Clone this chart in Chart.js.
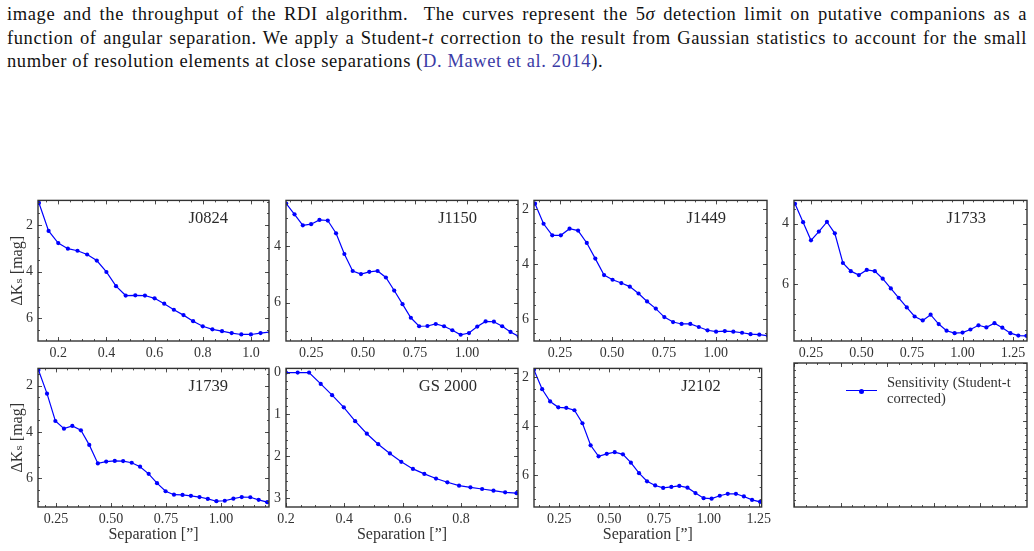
<!DOCTYPE html>
<html><head><meta charset="utf-8">
<script src="https://cdn.jsdelivr.net/npm/chart.js@4.4.1/dist/chart.umd.min.js"></script>
<style>
html,body{margin:0;padding:0;background:#fff;width:1034px;height:551px;overflow:hidden;position:relative;}
.txt{position:absolute;left:7px;width:1020px;font-family:"Liberation Serif",serif;font-size:18.5px;letter-spacing:0.6px;line-height:22px;color:#111;white-space:nowrap;}
.just{text-align:justify;text-align-last:justify;white-space:normal;}
.cite{color:#3b3ba6;}
canvas{position:absolute;}
#legend{position:absolute;left:846px;top:375px;width:180px;height:34px;font-family:"Liberation Serif",serif;font-size:14.5px;line-height:15.5px;color:#333;}
#legend .ln{position:absolute;left:0;top:15px;width:31px;height:1.4px;background:#0000ff;}
#legend .dt{position:absolute;left:13px;top:13.5px;width:5px;height:5px;border-radius:50%;background:#0000ff;}
#legend .lb{position:absolute;left:41px;top:0;white-space:nowrap;}
</style></head><body>
<div class="txt just" style="top:3px">image and the throughput of the RDI algorithm.&nbsp; The curves represent the 5<i>σ</i> detection limit on putative companions as a</div>
<div class="txt just" style="top:27px">function of angular separation. We apply a Student-<i>t</i> correction to the result from Gaussian statistics to account for the small</div>
<div class="txt" style="top:50px">number of resolution elements at close separations (<span class="cite">D. Mawet et al. 2014</span>).</div>

<canvas id="c0"></canvas><canvas id="c1"></canvas><canvas id="c2"></canvas><canvas id="c3"></canvas>
<canvas id="c4"></canvas><canvas id="c5"></canvas><canvas id="c6"></canvas><canvas id="c7"></canvas>
<div id="legend"><div class="ln"></div><div class="dt"></div><div class="lb" id="legendText">Sensitivity (Student-t<br>corrected)</div></div>

<script>
// ---------------- DATA ----------------
const targetNames = ['J0824', 'J1150', 'J1449', 'J1733', 'J1739', 'GS 2000', 'J2102'];
const legendLabel = 'Sensitivity (Student-t corrected)';

const j0824Sep = [0.12,0.16,0.20,0.24,0.28,0.32,0.36,0.40,0.44,0.48,0.52,0.56,0.60,0.64,0.68,0.72,0.76,0.80,0.84,0.88,0.92,0.96,1.00,1.04,1.08];
const j0824Dk  = [1.05,2.25,2.77,3.01,3.10,3.26,3.52,4.01,4.62,5.02,5.01,5.02,5.14,5.37,5.63,5.86,6.12,6.34,6.47,6.55,6.63,6.69,6.69,6.63,6.58];

const j1150Sep = [0.13,0.17,0.21,0.25,0.29,0.33,0.37,0.41,0.45,0.49,0.53,0.57,0.61,0.65,0.69,0.73,0.77,0.81,0.85,0.89,0.93,0.97,1.01,1.05,1.09,1.13,1.17,1.21,1.25];
const j1150Dk  = [2.50,2.88,3.27,3.23,3.08,3.10,3.55,4.28,4.88,4.99,4.91,4.88,5.11,5.57,6.05,6.53,6.83,6.82,6.75,6.83,6.97,7.13,7.07,6.84,6.66,6.67,6.83,7.03,7.19];

const j1449Sep = [0.130,0.171,0.213,0.254,0.296,0.337,0.379,0.420,0.462,0.503,0.545,0.586,0.628,0.669,0.711,0.752,0.794,0.835,0.877,0.918,0.960,1.001,1.043,1.084,1.126,1.167,1.209,1.250];
const j1449Dk  = [1.80,2.53,2.95,2.95,2.71,2.78,3.23,3.80,4.40,4.57,4.69,4.82,5.07,5.36,5.62,5.93,6.11,6.18,6.18,6.29,6.41,6.46,6.44,6.46,6.50,6.55,6.57,6.61];

const j1733Sep = [0.171,0.211,0.250,0.289,0.329,0.368,0.408,0.447,0.487,0.526,0.566,0.605,0.645,0.684,0.724,0.763,0.803,0.842,0.882,0.921,0.961,1.000,1.039,1.079,1.118,1.158,1.197,1.237,1.276,1.316];
const j1733Dk  = [3.34,3.95,4.55,4.26,3.94,4.32,5.30,5.57,5.70,5.53,5.57,5.82,6.14,6.45,6.77,7.07,7.20,7.01,7.32,7.54,7.62,7.60,7.50,7.36,7.43,7.29,7.44,7.62,7.70,7.71];

const j1739Sep = [0.170,0.209,0.247,0.286,0.324,0.363,0.401,0.440,0.478,0.517,0.555,0.594,0.632,0.671,0.709,0.748,0.786,0.825,0.863,0.902,0.940,0.979,1.017,1.056,1.094,1.133,1.171,1.210];
const j1739Dk  = [1.33,2.35,3.53,3.86,3.74,3.93,4.56,5.36,5.28,5.25,5.26,5.33,5.50,5.81,6.21,6.56,6.71,6.72,6.76,6.81,6.89,6.99,6.97,6.88,6.81,6.82,6.93,7.03];

const gs2000Sep = [0.200,0.240,0.279,0.319,0.358,0.398,0.437,0.477,0.516,0.556,0.595,0.635,0.674,0.714,0.753,0.793,0.832,0.872,0.911,0.951,0.990];
const gs2000Dk  = [0.00,0.00,0.00,0.27,0.54,0.83,1.16,1.46,1.71,1.93,2.13,2.30,2.42,2.53,2.62,2.70,2.74,2.78,2.82,2.86,2.88];

const j2102Sep = [0.123,0.164,0.204,0.245,0.285,0.326,0.366,0.407,0.447,0.488,0.528,0.569,0.609,0.650,0.690,0.731,0.771,0.812,0.852,0.893,0.933,0.974,1.014,1.055,1.095,1.136,1.176,1.217,1.257];
const j2102Dk  = [1.71,2.50,3.00,3.24,3.26,3.36,3.89,4.79,5.24,5.14,5.07,5.16,5.50,5.93,6.26,6.43,6.53,6.49,6.45,6.52,6.74,6.95,6.97,6.85,6.77,6.77,6.88,7.02,7.10];

// tick values and labels
const xTicksTenths   = [0.2, 0.4, 0.6, 0.8, 1.0];
const xLabelsTenths  = ['0.2', '0.4', '0.6', '0.8', '1.0'];
const xTicksQuarter  = [0.25, 0.50, 0.75, 1.00, 1.25];
const xLabelsQuarter = ['0.25', '0.50', '0.75', '1.00', '1.25'];
const yTicksEven     = [2, 4, 6];
const yLabelsEven    = ['2', '4', '6'];
const yTicksGs       = [0, 1, 2, 3];
const yLabelsGs      = ['0', '1', '2', '3'];

const xTitle = 'Separation [\u201D]';
const yTitle = '\u0394K\u209B [mag]';

// ---------------- LAYOUT ----------------
const colLeft  = [38, 286, 534, 794];
const colRight = [269, 518, 767, 1027];
const rowTop   = [195, 363];
const rowBot   = [341, 507];
const Y_AXIS_W = 38, X_AXIS_H = 40, PAD_T = 8, PAD_R = 8;
const SERIF = '"Liberation Serif", "DejaVu Serif", serif';
const LINE_BLUE = '#0000ff';

const panels = [
  {name: targetNames[0], sep: j0824Sep, dk: j0824Dk, xMin: 0.116, xMax: 1.075, yMin: 0.94, yMax: 6.97, xt: xTicksTenths, xl: xLabelsTenths, xMinor: 0.05, yt: yTicksEven, yl: yLabelsEven, yMinor: 0.5, row: 0, col: 0},
  {name: targetNames[1], sep: j1150Sep, dk: j1150Dk, xMin: 0.129, xMax: 1.246, yMin: 2.39, yMax: 7.35, xt: xTicksQuarter, xl: xLabelsQuarter, xMinor: 0.05, yt: yTicksEven, yl: yLabelsEven, yMinor: 0.5, row: 0, col: 1},
  {name: targetNames[2], sep: j1449Sep, dk: j1449Dk, xMin: 0.125, xMax: 1.246, yMin: 1.68, yMax: 6.80, xt: xTicksQuarter, xl: xLabelsQuarter, xMinor: 0.05, yt: yTicksEven, yl: yLabelsEven, yMinor: 0.5, row: 0, col: 2},
  {name: targetNames[3], sep: j1733Sep, dk: j1733Dk, xMin: 0.166, xMax: 1.319, yMin: 3.23, yMax: 7.88, xt: xTicksQuarter, xl: xLabelsQuarter, xMinor: 0.05, yt: yTicksEven, yl: yLabelsEven, yMinor: 0.5, row: 0, col: 3},
  {name: targetNames[4], sep: j1739Sep, dk: j1739Dk, xMin: 0.168, xMax: 1.218, yMin: 1.26, yMax: 7.24, xt: xTicksQuarter, xl: xLabelsQuarter, xMinor: 0.05, yt: yTicksEven, yl: yLabelsEven, yMinor: 0.5, row: 1, col: 0},
  {name: targetNames[5], sep: gs2000Sep, dk: gs2000Dk, xMin: 0.200, xMax: 0.995, yMin: -0.10, yMax: 3.21, xt: xTicksTenths, xl: xLabelsTenths, xMinor: 0.05, yt: yTicksGs, yl: yLabelsGs, yMinor: 0.2, row: 1, col: 1},
  {name: targetNames[6], sep: j2102Sep, dk: j2102Dk, xMin: 0.123, xMax: 1.265, yMin: 1.65, yMax: 7.31, xt: xTicksQuarter, xl: xLabelsQuarter, xMinor: 0.05, yt: yTicksEven, yl: yLabelsEven, yMinor: 0.5, row: 1, col: 2},
  {name: '', sep: [], dk: [], xMin: 0, xMax: 1, yMin: 0, yMax: 1, xt: [0,0.2,0.4,0.6,0.8,1.0], xl: null, xMinor: 0.05, yt: [0,0.2,0.4,0.6,0.8,1.0], yl: null, yMinor: 0.05, row: 1, col: 3, legendOnly: true}
];

const inRange = (v, lo, hi) => v >= Math.min(lo, hi) - 1e-9 && v <= Math.max(lo, hi) + 1e-9;

// frame with inward ticks on all four sides + panel label
const framePlugin = {
  id: 'frame',
  afterDatasetsDraw(chart, args, opts) {
    const {ctx, chartArea: a, scales: {x, y}} = chart;
    ctx.save();
    ctx.strokeStyle = '#3c3c3c';
    ctx.lineWidth = 0.9;
    const minorVals = (min, max, step) => {
      const out = [];
      for (let k = Math.ceil(min / step - 1e-9); k * step <= max + 1e-9; k++) out.push(k * step);
      return out;
    };
    const tickX = (v, len) => {
      const px = Math.round(x.getPixelForValue(v)) + 0.5;
      if (px < a.left || px > a.right) return;
      ctx.beginPath();
      ctx.moveTo(px, a.bottom); ctx.lineTo(px, a.bottom - len);
      ctx.moveTo(px, a.top); ctx.lineTo(px, a.top + len);
      ctx.stroke();
    };
    const tickY = (v, len) => {
      const py = Math.round(y.getPixelForValue(v)) + 0.5;
      if (py < a.top || py > a.bottom) return;
      ctx.beginPath();
      ctx.moveTo(a.left, py); ctx.lineTo(a.left + len, py);
      ctx.moveTo(a.right, py); ctx.lineTo(a.right - len, py);
      ctx.stroke();
    };
    minorVals(x.min, x.max, opts.xMinor).forEach(v => tickX(v, 2));
    minorVals(y.min, y.max, opts.yMinor).forEach(v => tickY(v, 2));
    opts.xt.forEach(v => tickX(v, 4));
    opts.yt.forEach(v => tickY(v, 4));
    ctx.lineWidth = 1.4;
    ctx.strokeStyle = '#333';
    ctx.strokeRect(a.left, a.top, a.right - a.left, a.bottom - a.top);
    if (opts.label) {
      ctx.fillStyle = '#2a2a2a';
      ctx.font = '16.5px ' + SERIF;
      ctx.textAlign = 'right';
      ctx.textBaseline = 'middle';
      ctx.fillText(opts.label, a.right - 41, a.top + 18);
    }
    ctx.restore();
  }
};

panels.forEach((p, i) => {
  const cv = document.getElementById('c' + i);
  const plotL = colLeft[p.col], plotR = colRight[p.col];
  const plotT = rowTop[p.row], plotB = rowBot[p.row];
  const w = (plotR - plotL) + Y_AXIS_W + PAD_R;
  const h = (plotB - plotT) + PAD_T + X_AXIS_H;
  cv.width = w; cv.height = h;
  cv.style.left = (plotL - Y_AXIS_W) + 'px';
  cv.style.top = (plotT - PAD_T) + 'px';
  cv.style.width = w + 'px'; cv.style.height = h + 'px';

  const showXTitle = p.row === 1 && !p.legendOnly;
  const showYTitle = p.col === 0;
  const xVis = p.xt.filter(v => inRange(v, p.xMin, p.xMax));
  const yVis = p.yt.filter(v => inRange(v, p.yMin, p.yMax));
  const xLab = v => p.xl ? p.xl[p.xt.indexOf(v)] : '';
  const yLab = v => p.yl ? p.yl[p.yt.indexOf(v)] : '';

  new Chart(cv, {
    type: 'line',
    data: {
      datasets: [{
        label: p.legendOnly ? legendLabel : p.name,
        data: p.sep.map((s, k) => ({x: s, y: p.dk[k]})),
        borderColor: LINE_BLUE,
        backgroundColor: LINE_BLUE,
        borderWidth: 1.2,
        pointRadius: 2.1,
        pointBorderWidth: 0,
        pointHoverRadius: 2.1,
        tension: 0,
        fill: false,
        clip: 0
      }]
    },
    options: {
      responsive: false,
      animation: false,
      devicePixelRatio: 1,
      layout: {padding: {top: PAD_T, right: PAD_R, left: 0, bottom: 0}},
      plugins: {
        legend: {display: false},
        tooltip: {enabled: false},
        frame: {label: p.name, xt: xVis, yt: yVis, xMinor: p.xMinor, yMinor: p.yMinor}
      },
      scales: {
        x: {
          type: 'linear', position: 'bottom',
          min: p.xMin, max: p.xMax,
          grid: {display: false, drawTicks: false},
          border: {display: false},
          afterBuildTicks: s => { s.ticks = xVis.map(v => ({value: v})); },
          afterFit: s => { s.height = X_AXIS_H; },
          ticks: {
            display: !!p.xl,
            autoSkip: false, maxRotation: 0, minRotation: 0,
            padding: 4, color: '#333',
            font: {family: SERIF, size: 14},
            callback: v => xLab(v)
          },
          title: {display: showXTitle, text: xTitle, color: '#333', font: {family: SERIF, size: 16}, padding: {top: 0, bottom: 3}}
        },
        y: {
          type: 'linear', position: 'left', reverse: true,
          min: p.yMin, max: p.yMax,
          grid: {display: false, drawTicks: false},
          border: {display: false},
          afterBuildTicks: s => { s.ticks = yVis.map(v => ({value: v})); },
          afterFit: s => { s.width = Y_AXIS_W; },
          ticks: {
            display: !!p.yl,
            autoSkip: false, padding: 5, color: '#333',
            font: {family: SERIF, size: 14},
            callback: v => yLab(v)
          },
          title: {display: showYTitle, text: yTitle, color: '#333', font: {family: SERIF, size: 16}, padding: {top: 8, bottom: 0}}
        }
      }
    },
    plugins: [framePlugin]
  });
});
</script>
</body></html>
